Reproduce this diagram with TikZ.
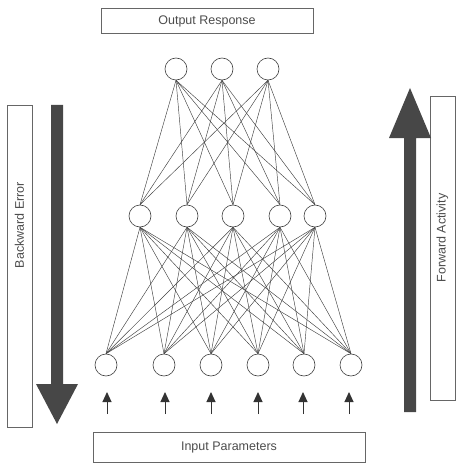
\documentclass[tikz,border=0pt]{standalone}
\usepackage{fontspec}
\setmainfont{Liberation Sans}
\usetikzlibrary{arrows.meta}
\begin{document}
\begin{tikzpicture}[x=1pt,y=-1pt,
  neuron/.style={circle,draw=black!75,line width=0.6pt,minimum size=22pt,inner sep=0pt,fill=white},
  labelbox/.style={draw=black!60,line width=0.6pt,inner sep=0pt,font=\fontsize{12.5}{14}\selectfont,text=black!70},
  link/.style={draw=black!75,line width=0.45pt},
  bigarrow/.style={fill=black!72,draw=none},
  inarrow/.style={draw=black!80,line width=1pt,-{Triangle[length=10pt,width=9pt]}}
]
\useasboundingbox (0,0) rectangle (455,468);

% text boxes
\node[labelbox,minimum width=212pt,minimum height=25pt] (out) at (207,21) {Output Response};
\node[labelbox,minimum width=272pt,minimum height=30pt] (inp) at (229,447) {Input Parameters};
\node[labelbox,minimum width=25pt,minimum height=322pt] (bwd) at (19.5,266) {};
\node[labelbox,minimum width=25pt,minimum height=304pt] (fwd) at (442.5,248) {};
\node[rotate=90,font=\fontsize{12.5}{14}\selectfont,text=black!70] (bwdtext) at (19.5,225) {Backward Error};
\node[rotate=90,font=\fontsize{12.5}{14}\selectfont,text=black!70] (fwdtext) at (442.5,238) {Forward Activity};

% large direction arrows
\fill[bigarrow] (51,105) -- (63,105) -- (63,384) -- (78,384) -- (57,424) -- (36,384) -- (51,384) -- cycle;
\fill[bigarrow] (404,412) -- (416,412) -- (416,138) -- (431,138) -- (410,88) -- (389,138) -- (404,138) -- cycle;

% neurons
\foreach \i/\x in {1/176,2/222,3/268}
  \node[neuron] (o\i) at (\x,69) {};
\foreach \i/\x in {1/140,2/187,3/233,4/280,5/315}
  \node[neuron] (h\i) at (\x,216) {};
\foreach \i/\x in {1/106,2/164,3/211,4/258,5/304,6/351}
  \node[neuron] (n\i) at (\x,365) {};

% weights
\foreach \a in {1,2,3}
  \foreach \b in {1,...,5}
    \draw[link] (o\a.south) -- (h\b.north);
\foreach \a in {1,...,5}
  \foreach \b in {1,...,6}
    \draw[link] (h\a.south) -- (n\b.north);

% input arrows
\foreach \i/\x in {1/107,2/165,3/211,4/258,5/303,6/349}{
  \coordinate (s\i) at (\x,414);
  \coordinate (t\i) at (\x,392);
  \draw[inarrow] (s\i) -- (t\i);
}
\end{tikzpicture}
\end{document}
